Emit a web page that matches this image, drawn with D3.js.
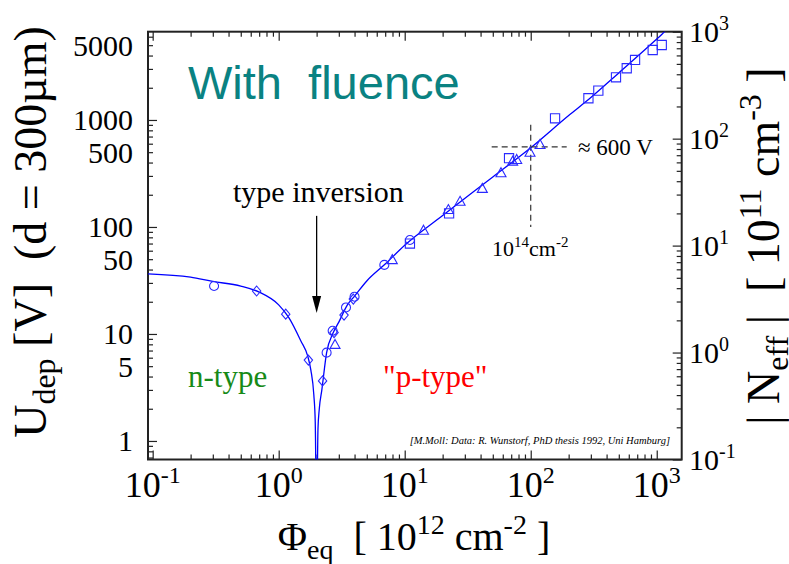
<!DOCTYPE html>
<html>
<head>
<meta charset="utf-8">
<script src="https://cdnjs.cloudflare.com/ajax/libs/d3/7.8.5/d3.min.js"></script>
<style>
  html, body { margin: 0; padding: 0; background: #fff; }
  svg { display: block; font-family: "Liberation Serif", "Times New Roman", serif; }
  text { white-space: pre; }
</style>
</head>
<body>
<svg id="chart" width="789" height="564"></svg>
<script>
// values (fluence in 1e12 cm^-2, Udep in V)
const circlePhi = [0.307, 2.40, 2.68, 3.42, 4.0, 6.89, 11.0];
const circleU   = [28.1, 6.69, 10.7, 17.7, 22.3, 44.2, 75.6];

const diamondPhi = [0.668, 1.137, 1.72, 2.23, 2.75, 3.30, 3.91];
const diamondU   = [25.2, 15.3, 5.7, 3.64, 10.3, 15.0, 21.2];

const trianglePhi = [2.80, 7.97, 14.1, 22.2, 27.5, 41.3, 58.1, 71.9, 77.4, 98.7, 118.6];
const triangleU   = [7.9, 49, 92.3, 144, 172, 227, 318, 408, 423, 494, 584];

const squarePhi = [11, 22.5, 67.3, 156, 287, 344, 475, 578, 673, 929, 1096];
const squareU   = [70, 134, 439, 1037, 1596, 1879, 2506, 3042, 3638, 4508, 5020];

// fit curve, traced point by point
const fitPhi = [0.092, 0.2, 0.3, 0.5, 0.7, 1.0, 1.2, 1.5, 1.7, 1.8, 1.9, 1.95, 1.99,
                2.01, 2.05, 2.1, 2.2, 2.4, 2.7, 3, 3.5, 4, 5, 7, 10, 20, 50, 100,
                200, 300, 500, 1000, 1300, 1600];
const fitU   = [36.5, 34, 31, 28, 24.6, 18.7, 14.3, 8.6, 6.2, 4.6, 2.7, 1.5, 0.3,
                0.3, 1.3, 2.0, 3.0, 6.7, 10.2, 12.9, 18.6, 22.6, 31.3, 45, 67.5, 128, 293, 550,
                1100, 1620, 2750, 5700, 7600, 9300];

const xMajor = [0.1, 1, 10, 100, 1000];
const xExp   = ["-1", "0", "1", "2", "3"];
const yLabels = [1, 5, 10, 50, 100, 500, 1000, 5000];
const nMajor = [0.1, 1, 10, 100, 1000];
const nExp   = ["-1", "0", "1", "2", "3"];

// ~600 V marker at 1e14 cm^-2
const markPhi = 100, markU = 560;
const markHFrom = 49, markHTo = 193;
const markVFrom = 100, markVTo = 900;
// type inversion arrow
const invPhi = 2.0, invTop = 127, invTip = 15.7;

const W = 789, H = 564;
const plot = { left: 148, right: 681.7, top: 31.7, bottom: 459.5 };
const blue = "#2a2aff";

const svg = d3.select("#chart");

const x = d3.scaleLog().domain([0.0918, 1578]).range([plot.left, plot.right]);
const y = d3.scaleLog().domain([0.671, 6683]).range([plot.bottom, plot.top]);
const yN = d3.scaleLog().domain([0.1, 1000]).range([plot.bottom, plot.top]);

const isPow = v => Math.abs(Math.log10(v) - Math.round(Math.log10(v))) < 1e-6;

svg.append("defs").append("clipPath").attr("id", "clip")
  .append("rect")
  .attr("x", plot.left).attr("y", plot.top)
  .attr("width", plot.right - plot.left).attr("height", plot.bottom - plot.top);

// ticks (inside the frame)
function tickAxis(axisFn, scale, values, size, tx, ty) {
  svg.append("g")
    .attr("transform", `translate(${tx},${ty})`)
    .call(axisFn(scale).tickValues(values).tickSize(size).tickFormat(""))
    .call(g => g.select(".domain").remove())
    .selectAll("line").attr("stroke", "#222").attr("stroke-width", 1.2);
}
const xt = x.ticks(), yt = y.ticks(), nt = yN.ticks();
tickAxis(d3.axisBottom, x, xt.filter(isPow), -9, 0, plot.bottom);
tickAxis(d3.axisBottom, x, xt.filter(v => !isPow(v)), -5, 0, plot.bottom);
tickAxis(d3.axisTop, x, xt.filter(isPow), -9, 0, plot.top);
tickAxis(d3.axisTop, x, xt.filter(v => !isPow(v)), -5, 0, plot.top);
tickAxis(d3.axisLeft, y, yt.filter(isPow), -9, plot.left, 0);
tickAxis(d3.axisLeft, y, yt.filter(v => !isPow(v)), -5, plot.left, 0);
tickAxis(d3.axisRight, yN, nt.filter(isPow), -9, plot.right, 0);
tickAxis(d3.axisRight, yN, nt.filter(v => !isPow(v)), -5, plot.right, 0);

svg.append("rect")
  .attr("x", plot.left).attr("y", plot.top)
  .attr("width", plot.right - plot.left).attr("height", plot.bottom - plot.top)
  .attr("fill", "none").attr("stroke", "#222").attr("stroke-width", 2);

// tick labels
svg.append("g").selectAll("text").data(xMajor).enter().append("text")
  .attr("x", d => x(d)).attr("y", 497)
  .attr("text-anchor", "middle").attr("font-size", 36)
  .each(function (d, i) {
    const t = d3.select(this);
    t.append("tspan").text("10");
    t.append("tspan").attr("font-size", 24).attr("dy", -14).text(xExp[i]);
  });

svg.append("g").selectAll("text").data(yLabels).enter().append("text")
  .attr("x", 133).attr("y", d => y(d)).attr("dy", "0.35em")
  .attr("text-anchor", "end").attr("font-size", 30)
  .text(d => d);

svg.append("g").selectAll("text").data(nMajor).enter().append("text")
  .attr("x", 689).attr("y", d => yN(d)).attr("dy", "0.35em")
  .attr("font-size", 30)
  .each(function (d, i) {
    const t = d3.select(this);
    t.append("tspan").text("10");
    t.append("tspan").attr("font-size", 20).attr("dy", -12).text(nExp[i]);
  });

// axis titles
const xt1 = svg.append("text").attr("x", 414).attr("y", 550)
  .attr("text-anchor", "middle").attr("font-size", 40);
xt1.append("tspan").text("Φ");
xt1.append("tspan").attr("font-size", 28).attr("dy", 9).text("eq");
xt1.append("tspan").attr("dy", -9).text("  [ 10");
xt1.append("tspan").attr("font-size", 28).attr("dy", -16).text("12");
xt1.append("tspan").attr("dy", 16).text(" cm");
xt1.append("tspan").attr("font-size", 28).attr("dy", -16).text("-2");
xt1.append("tspan").attr("dy", 16).text(" ]");

const yt1 = svg.append("text").attr("transform", "translate(46,232) rotate(-90)")
  .attr("text-anchor", "middle").attr("font-size", 46);
yt1.append("tspan").text("U");
yt1.append("tspan").attr("font-size", 32).attr("dy", 9).text("dep");
yt1.append("tspan").attr("dy", -9).text(" [V]  (d = 300µm)");

const yt2 = svg.append("text").attr("transform", "translate(779,246) rotate(-90)")
  .attr("text-anchor", "middle").attr("font-size", 46);
yt2.append("tspan").text("| N");
yt2.append("tspan").attr("font-size", 32).attr("dy", 9).text("eff");
yt2.append("tspan").attr("dy", -9).text(" |  [ 10");
yt2.append("tspan").attr("font-size", 32).attr("dy", -18).text("11");
yt2.append("tspan").attr("dy", 18).text(" cm");
yt2.append("tspan").attr("font-size", 32).attr("dy", -18).text("-3");
yt2.append("tspan").attr("dy", 18).text(" ]");

// plot content
const body = svg.append("g").attr("clip-path", "url(#clip)");

const fit = fitPhi.map((p, i) => [x(p), y(fitU[i])]);
body.append("path")
  .attr("d", d3.line().curve(d3.curveMonotoneX)(fit))
  .attr("fill", "none").attr("stroke", "#0000ff").attr("stroke-width", 1.3);

// dashed marker
body.append("line")
  .attr("x1", x(markHFrom)).attr("x2", x(markHTo))
  .attr("y1", y(markU)).attr("y2", y(markU))
  .attr("stroke", "#333").attr("stroke-width", 1.2).attr("stroke-dasharray", "6,4");
body.append("line")
  .attr("x1", x(markPhi)).attr("x2", x(markPhi))
  .attr("y1", y(markVTo)).attr("y2", y(markVFrom))
  .attr("stroke", "#333").attr("stroke-width", 1.2).attr("stroke-dasharray", "6,4");

function markers(phi, u, shape) {
  body.append("g").selectAll("path")
    .data(phi.map((p, i) => [x(p), y(u[i])]))
    .enter().append("path")
    .attr("transform", d => `translate(${d[0]},${d[1]})`)
    .attr("d", shape)
    .attr("fill", "none").attr("stroke", blue).attr("stroke-width", 1.1);
}
markers(circlePhi, circleU, "M4.5,0A4.5,4.5 0 1,1 -4.5,0A4.5,4.5 0 1,1 4.5,0Z");
markers(diamondPhi, diamondU, "M0,-5L4.2,0L0,5L-4.2,0Z");
markers(trianglePhi, triangleU, "M0,-5.5L5,3.5L-5,3.5Z");
markers(squarePhi, squareU, "M-4.6,-4.6H4.6V4.6H-4.6Z");

// arrow
svg.append("line")
  .attr("x1", x(invPhi)).attr("x2", x(invPhi))
  .attr("y1", y(invTop)).attr("y2", y(invTip) - 12)
  .attr("stroke", "#000").attr("stroke-width", 1.3);
svg.append("path")
  .attr("transform", `translate(${x(invPhi)},${y(invTip)})`)
  .attr("d", "M0,0L-4.5,-17L4.5,-17Z").attr("fill", "#000");

// annotations
svg.append("text").attr("x", 188).attr("y", 99)
  .attr("font-family", "'Liberation Sans', Arial, sans-serif")
  .attr("font-size", 47).attr("fill", "#0a8282").text("With  fluence");

svg.append("text").attr("x", 233).attr("y", 202)
  .attr("font-size", 30).text("type inversion");

svg.append("text").attr("x", 188).attr("y", 387)
  .attr("font-size", 31).attr("fill", "#178a17").text("n-type");
svg.append("text").attr("x", 383).attr("y", 387)
  .attr("font-size", 31).attr("fill", "#ff0000").text("\"p-type\"");

svg.append("text").attr("x", 578).attr("y", 155)
  .attr("font-size", 23).text("≈ 600 V");

const t14 = svg.append("text").attr("x", 492).attr("y", 256).attr("font-size", 22);
t14.append("tspan").text("10");
t14.append("tspan").attr("font-size", 15).attr("dy", -9).text("14");
t14.append("tspan").attr("dy", 9).text("cm");
t14.append("tspan").attr("font-size", 15).attr("dy", -9).text("-2");

svg.append("text").attr("x", 670).attr("y", 444)
  .attr("text-anchor", "end").attr("font-size", 10.5).attr("font-style", "italic")
  .text("[M.Moll: Data: R. Wunstorf, PhD thesis 1992, Uni Hamburg]");
</script>
</body>
</html>
